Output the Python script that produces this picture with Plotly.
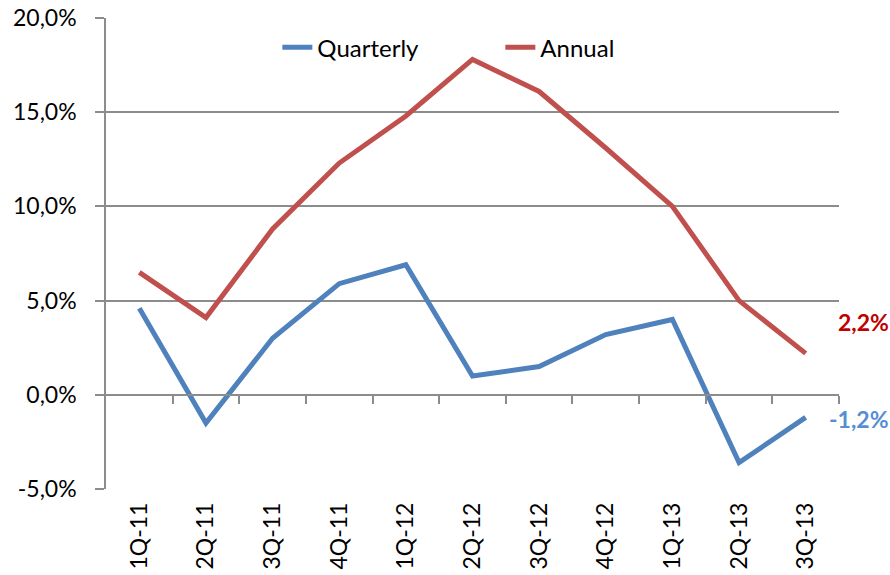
import plotly.graph_objects as go

categories = ["1Q-11", "2Q-11", "3Q-11", "4Q-11", "1Q-12", "2Q-12",
              "3Q-12", "4Q-12", "1Q-13", "2Q-13", "3Q-13"]
quarterly = [4.6, -1.5, 3.0, 5.9, 6.9, 1.0, 1.5, 3.2, 4.0, -3.6, -1.2]
annual = [6.5, 4.1, 8.8, 12.3, 14.8, 17.8, 16.1, 13.1, 10.0, 5.0, 2.2]
y_ticks = [-5, 0, 5, 10, 15, 20]
y_ticklabels = ["-5,0%", "0,0%", "5,0%", "10,0%", "15,0%", "20,0%"]

BLUE = "#4F81BD"
RED = "#C0504D"
GRID = "#8C8C8C"
FONT = "Lato, Carlito, Calibri, sans-serif"
FS = 23

def pct(v):
    return f"{v:.1f}".replace(".", ",") + "%"

fig = go.Figure()
fig.add_trace(go.Scatter(x=categories, y=quarterly, name="Quarterly", mode="lines",
                         line=dict(color=BLUE, width=5)))
fig.add_trace(go.Scatter(x=categories, y=annual, name="Annual", mode="lines",
                         line=dict(color=RED, width=5)))
# helper axis carrying the zero-line category ticks
fig.add_trace(go.Scatter(x=[], y=[], xaxis="x2", showlegend=False, hoverinfo="skip"))

n = len(categories)
fig.update_layout(
    width=890, height=575,
    margin=dict(l=106, r=51, t=18, b=86, autoexpand=False),
    paper_bgcolor="white", plot_bgcolor="white",
    font=dict(family=FONT, size=FS, color="black"),
    showlegend=True,
    legend=dict(orientation="h", x=0.538, xanchor="center", y=0.985, yanchor="top",
                font=dict(size=24), bgcolor="rgba(0,0,0,0)", entrywidth=178,
                tracegroupgap=0),
    xaxis=dict(type="category", range=[-0.5, n - 0.5], showline=False, showgrid=False,
               ticks="", tickangle=-90, tickfont=dict(size=FS), zeroline=False,
               ticklabelstandoff=8, automargin=False),
    xaxis2=dict(overlaying="x", anchor="free", position=0.2, range=[-0.5, n - 0.5],
                showline=True, linecolor=GRID, linewidth=1.5,
                tickmode="array", tickvals=[i + 0.5 for i in range(n)],
                ticks="outside", ticklen=8, tickcolor=GRID, tickwidth=1.5,
                showticklabels=False, showgrid=False, zeroline=False, automargin=False),
    yaxis=dict(range=[-5, 20], tickmode="array", tickvals=y_ticks, ticktext=y_ticklabels,
               showgrid=True, gridcolor=GRID, gridwidth=1.5,
               showline=True, linecolor=GRID, linewidth=1.5,
               ticks="outside", ticklen=9, tickcolor=GRID, tickwidth=1.5,
               zeroline=False, ticklabelstandoff=14, tickfont=dict(size=FS),
               automargin=False),
)

fig.add_annotation(xref="paper", x=1, xanchor="left", xshift=-3, yref="y", y=annual[-1],
                   yshift=31, text=f"<b>{pct(annual[-1])}</b>", showarrow=False,
                   font=dict(color="#C00000", size=FS, family=FONT))
fig.add_annotation(xref="paper", x=1, xanchor="left", xshift=-12, yref="y", y=quarterly[-1],
                   yshift=-2, text=f"<b>{pct(quarterly[-1])}</b>", showarrow=False,
                   font=dict(color="#558ED5", size=FS, family=FONT))

fig.write_html("out.html", config={"displayModeBar": False},
               post_script="document.body.style.margin='0';")
